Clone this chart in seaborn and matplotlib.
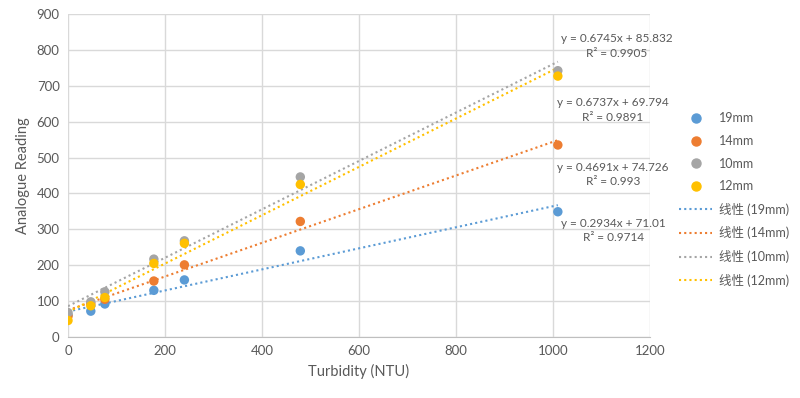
import numpy as np
import pandas as pd
import matplotlib
matplotlib.use("Agg")
import matplotlib.pyplot as plt
from matplotlib.lines import Line2D
import seaborn as sns

# Data
turbidity = [0, 47, 76, 177, 240, 479, 1010]
series_names = ["19mm", "14mm", "10mm", "12mm"]
reading_19mm = [62, 72, 92, 130, 159, 240, 349]
reading_14mm = [58, 93, 105, 156, 201, 322, 535]
reading_10mm = [68, 98, 126, 217, 268, 446, 742]
reading_12mm = [46, 87, 110, 205, 261, 425, 727]

# Trendline coefficients as printed on the chart (series order)
slopes = [0.2934, 0.4691, 0.6745, 0.6737]
intercepts = [71.01, 74.726, 85.832, 69.794]
r_squared = ["0.9714", "0.993", "0.9905", "0.9891"]
intercept_txt = ["71.01", "74.726", "85.832", "69.794"]
eq_y = [297, 453, 810, 632]
eq_x = [1124, 1124, 1132, 1123]

colors = ["#5B9BD5", "#ED7D31", "#A5A5A5", "#FFC000"]

sns.set_style("white")
plt.rcParams["font.family"] = ["Lato", "Noto Sans CJK SC", "DejaVu Sans"]

readings = [reading_19mm, reading_14mm, reading_10mm, reading_12mm]
df = pd.DataFrame({
    "x": turbidity * 4,
    "y": sum(readings, []),
    "series": [n for n in series_names for _ in turbidity],
})

fig = plt.figure(figsize=(8, 3.98), dpi=100)
ax = fig.add_axes([68 / 800, 61 / 398, 582 / 800, 323 / 398])

# trend lines over the data range
xr = np.array([min(turbidity), max(turbidity)])
for name, m, b, c in zip(series_names, slopes, intercepts, colors):
    sns.lineplot(x=xr, y=m * xr + b, ax=ax, color=c, lw=1.5,
                 linestyle=(0, (1, 1.5)), legend=False)

sns.scatterplot(data=df, x="x", y="y", hue="series", hue_order=series_names,
                palette=colors, s=46, edgecolor="none", ax=ax, legend=False,
                zorder=3)

for m, ic, r2, ex, ey in zip(slopes, intercept_txt, r_squared, eq_x, eq_y):
    ax.text(ex, ey, f"y = {m}x + {ic}\nR² = {r2}", ha="center", va="center",
            fontsize=8.5, color="#595959", linespacing=1.4, clip_on=False)

ax.set_xlim(0, 1200)
ax.set_ylim(0, 900)
ax.set_xticks(range(0, 1201, 200))
ax.set_yticks(range(0, 901, 100))
ax.grid(True, color="#D9D9D9", lw=1)
for s in ["top", "right", "left"]:
    ax.spines[s].set_visible(False)
ax.spines["bottom"].set_color("#BFBFBF")
ax.tick_params(length=0, labelsize=9.5, labelcolor="#595959", pad=6)
ax.set_xlabel("Turbidity (NTU)", fontsize=10.5, color="#595959", labelpad=5)
ax.set_ylabel("Analogue Reading", fontsize=10.5, color="#595959", labelpad=5)

handles = [Line2D([], [], marker="o", ls="none", color=c, markersize=6.5)
           for c in colors]
handles += [Line2D([], [], ls=(0, (1, 1.5)), lw=1.5, color=c) for c in colors]
labels = series_names + [f"线性 ({n})" for n in series_names]
fig.legend(handles, labels, loc="upper left", bbox_to_anchor=(668 / 800, 1 - 101 / 398),
           frameon=False, fontsize=9, labelcolor="#595959", handlelength=2.6,
           labelspacing=0.85, handletextpad=0.6)

fig.savefig("out.png", dpi=100)
